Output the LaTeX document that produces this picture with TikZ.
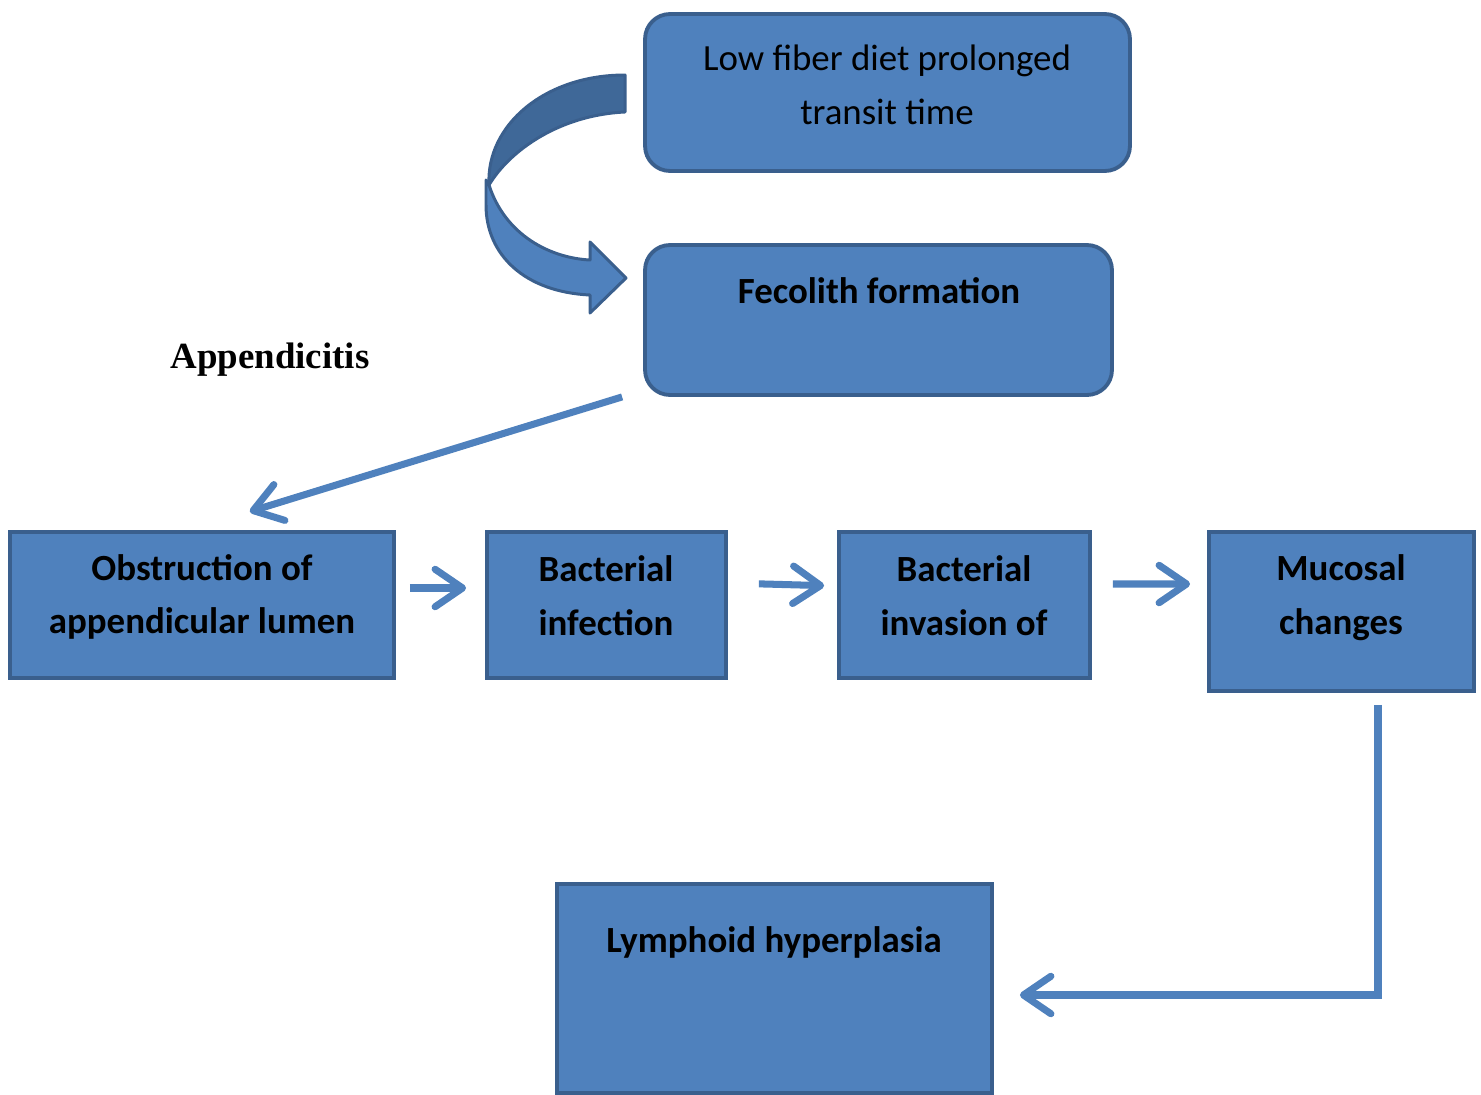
\documentclass[tikz,border=0pt]{standalone}
\usepackage{fontspec}
\setmainfont{Carlito}
\newfontfamily\timesfont{Liberation Serif}
\usetikzlibrary{arrows.meta}
\definecolor{boxblue}{HTML}{4F81BD}
\definecolor{boxline}{HTML}{3A5F8D}
\definecolor{backblue}{HTML}{3F6898}
\begin{document}
\begin{tikzpicture}[x=0.02cm,y=-0.02cm,
    flowbox/.style={draw=boxline,fill=boxblue,line width=2.2pt,minimum height=2.92cm},
    roundbox/.style={flowbox,rounded corners=0.5cm},
    boxtext/.style={align=center,font=\fontsize{21}{30.6}\selectfont\bfseries},
    flow/.style={boxblue,line width=4pt,-{Straight Barb[round,length=0.55cm,width=0.75cm]}}]
    \useasboundingbox (0,0) rectangle (1481,1095);
    \node[roundbox,minimum width=9.7cm,minimum height=3.14cm] (lowfiber) at (887.5,92.5) {};
    \node[roundbox,minimum width=9.34cm,minimum height=3cm] (fecolith) at (878.5,320) {};
    \node[flowbox,minimum width=7.68cm] (obstruct) at (202,605) {};
    \node[flowbox,minimum width=4.78cm] (infection) at (606.5,605) {};
    \node[flowbox,minimum width=5.02cm] (invasion) at (964.5,605) {};
    \node[flowbox,minimum width=5.3cm,minimum height=3.18cm] (mucosal) at (1341.5,611.5) {};
    \node[flowbox,minimum width=8.7cm,minimum height=4.18cm] (lymphoid) at (774.5,988.5) {};
    \node[boxtext,font=\fontsize{21}{30.6}\selectfont] (lowfibertxt) at (887,85) {Low fiber diet prolonged\\transit time};
    \node[boxtext] (fecolithtxt) at (879,291) {Fecolith formation};
    \node[boxtext] (obstructtxt) at (202,597) {Obstruction of\\appendicular lumen};
    \node[boxtext] (infectiontxt) at (606,596) {Bacterial\\infection};
    \node[boxtext] (invasiontxt) at (964,596) {Bacterial\\invasion of};
    \node[boxtext] (mucosaltxt) at (1341,598) {Mucosal\\changes};
    \node[boxtext] (lymphoidtxt) at (774,942) {Lymphoid hyperplasia};
    \node[font=\fontsize{21}{25}\selectfont\timesfont\bfseries] (appendicitis) at (270,360) {Appendicitis};
    \filldraw[fill=backblue,draw=boxline,line width=1.7pt,line join=round]
      (625,75) -- (625,112) .. controls (560,115) and (510,150) .. (489,185)
      .. controls (486,125) and (545,75) .. (625,75) -- cycle;
    \filldraw[fill=boxblue,draw=boxline,line width=1.7pt,line join=round]
      (489,185) .. controls (505,235) and (550,258) .. (590,260) -- (590,242) -- (626,278)
      -- (590,313) -- (590,295) .. controls (525,292) and (486,255) .. (486,205) -- (486,180) -- cycle;
    \draw[flow,shorten >=0.1cm] ([xshift=-0.42cm]fecolith.south west) -- ([xshift=0.86cm,yshift=0.34cm]obstruct.north);
    \draw[flow,shorten <=0.28cm,shorten >=0.38cm] ([yshift=0.34cm]obstruct.east) -- ([yshift=0.34cm]infection.west);
    \draw[flow,shorten <=0.62cm,shorten >=0.26cm] ([yshift=0.44cm]infection.east) -- ([yshift=0.38cm]invasion.west);
    \draw[flow,shorten <=0.42cm,shorten >=0.34cm] ([yshift=0.42cm]invasion.east) -- ([yshift=0.55cm]mucosal.west);
    \draw[flow,shorten <=0.24cm,shorten >=0.52cm] ([xshift=0.73cm]mucosal.south) |- ([yshift=-0.13cm]lymphoid.east);
\end{tikzpicture}
\end{document}
